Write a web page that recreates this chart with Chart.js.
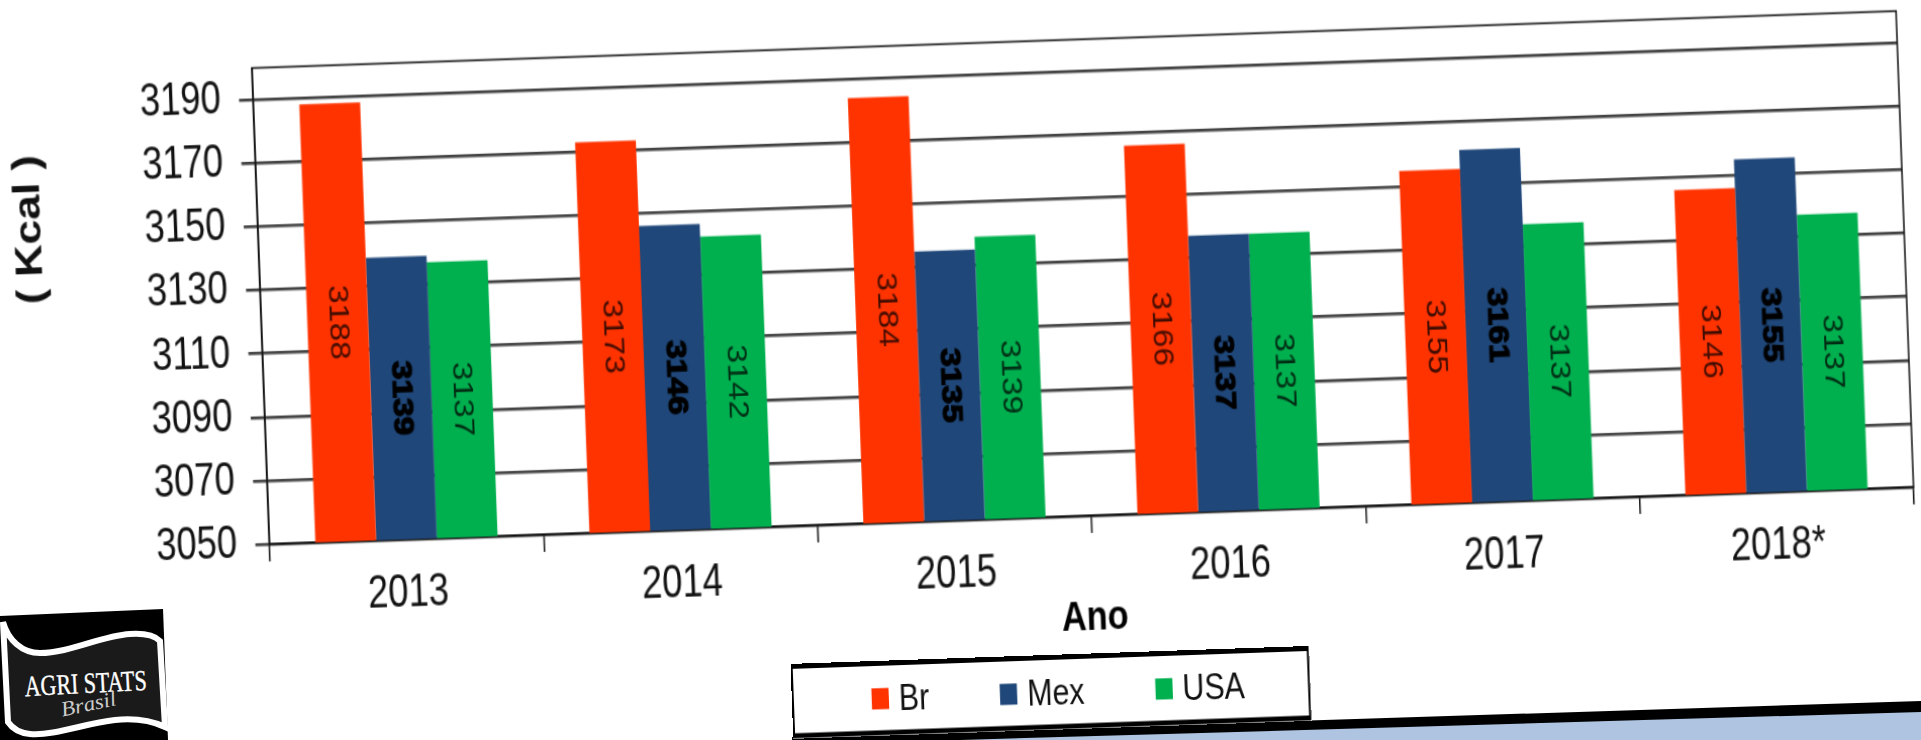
<!DOCTYPE html>
<html lang="pt">
<head>
    <meta charset="UTF-8">
    <title>Kcal por ano</title>
    <script src="https://cdn.jsdelivr.net/npm/chart.js"></script>
    <style>
        html, body { margin: 0; padding: 0; width: 1921px; height: 740px; overflow: hidden; background: #fff; }
        #sheet { position: absolute; left: 0; top: 0; width: 1921px; height: 600px; transform-origin: 0 0; }
        #sheet canvas { position: absolute; left: 0; top: 0; }
        #legend {
            position: absolute; left: 779px; top: 534px; width: 513px; height: 60px; box-sizing: border-box;
            border: 2px solid #000; border-top-width: 4px; border-bottom-width: 4px; background: #fff;
            display: flex; align-items: center; gap: 70px; padding-left: 77px;
            font: 30px "Liberation Sans", Arial, sans-serif; color: #111;
        }
        #legend span.item { display: flex; align-items: center; gap: 10px; }
        #legend i { display: block; width: 17px; height: 17px; }
        #deco { position: absolute; left: 0; top: 0; }
    </style>
</head>
<body>
    <svg id="deco" width="1921" height="740">
        <!-- faixa de baixo -->
        <polygon points="792,737 1921,701 1921,740 792,740" fill="#000"/>
        <polygon points="960,740 1921,712 1921,740" fill="#aec4e0"/>
        <!-- logo -->
        <polygon points="0,616 163,609 168,740 0,740" fill="#000"/>
        <path d="M3,622 C8,640 22,653 40,653 C70,653 100,636 130,634 C145,633 155,636 160,641 L165,727 C150,720 135,718 115,720 C85,723 55,736 30,734 C20,733 12,728 8,722 Z" fill="#1a1a1a" stroke="#fff" stroke-width="6"/>
        <g transform="rotate(-3 86 690)">
            <text x="86" y="693" text-anchor="middle" textLength="122" lengthAdjust="spacingAndGlyphs" font-family="Liberation Serif" font-size="29" fill="#fff" stroke="#fff" stroke-width="0.4">AGRI STATS</text>
        </g>
        <g transform="rotate(-12 88 702)">
            <text x="88" y="711" text-anchor="middle" textLength="56" lengthAdjust="spacingAndGlyphs" font-family="Liberation Serif" font-style="italic" font-size="21" fill="#ccc">Brasil</text>
        </g>
    </svg>

    <div id="sheet">
        <canvas id="kcalChart" width="1921" height="600"></canvas>
        <div id="legend"></div>
    </div>

    <script>
        const years = ['2013', '2014', '2015', '2016', '2017', '2018*'];
        const brValues = [3188, 3173, 3184, 3166, 3155, 3146];
        const mexValues = [3139, 3146, 3135, 3137, 3161, 3155];
        const usaValues = [3137, 3142, 3139, 3137, 3137, 3137];
        const yTicks = [3050, 3070, 3090, 3110, 3130, 3150, 3170, 3190];
        const seriesNames = ['Br', 'Mex', 'USA'];
        const seriesColors = ['#ff3300', '#1f4779', '#00b04f'];

        // onde os cantos da area do grafico caem na pagina (foto torta)
        const cornerTopLeft = [252, 68];
        const cornerTopRight = [1896, 11];
        const cornerBottomLeft = [269.5, 544];

        const fontName = '"Liberation Sans", Arial, sans-serif';

        // rotulos girados no meio de cada barra, Mex em negrito, e o titulo ( Kcal )
        const extraText = {
            id: 'extraText',
            afterDraw(chart) {
                const ctx = chart.ctx, area = chart.chartArea, yScale = chart.scales.y;
                ctx.save();
                ctx.textAlign = 'center';
                ctx.textBaseline = 'middle';
                chart.data.datasets.forEach((ds, i) => {
                    chart.getDatasetMeta(i).data.forEach((bar, j) => {
                        const midY = (yScale.getPixelForValue(ds.data[j]) + area.bottom) / 2;
                        const isBold = i === 1;
                        ctx.save();
                        ctx.translate(bar.x, midY);
                        ctx.rotate(Math.PI / 2);
                        ctx.font = (isBold ? 'bold ' : '') + '27px ' + fontName;
                        ctx.fillStyle = isBold ? '#000' : 'rgba(0,0,0,0.75)';
                        ctx.fillText(String(ds.data[j]), 0, 0);
                        if (isBold) {
                            ctx.strokeStyle = '#000';
                            ctx.lineWidth = 1.2;
                            ctx.strokeText(String(ds.data[j]), 0, 0);
                        }
                        ctx.restore();
                    });
                });
                ctx.fillStyle = '#111';
                ctx.translate(area.left - 225, area.top + 124);
                ctx.rotate(-Math.PI / 2);
                ctx.font = 'bold 36px ' + fontName;
                ctx.fillText('( Kcal )', 0, 0);
                ctx.restore();
            }
        };

        // moldura fina em volta da area
        const plotFrame = {
            id: 'plotFrame',
            beforeDatasetsDraw(chart) {
                const a = chart.chartArea, ctx = chart.ctx;
                ctx.save();
                ctx.strokeStyle = '#111';
                ctx.lineWidth = 1.5;
                ctx.strokeRect(a.left, a.top, a.width, a.height);
                ctx.restore();
            }
        };

        const chart = new Chart(document.getElementById('kcalChart'), {
            type: 'bar',
            data: {
                labels: years,
                datasets: [brValues, mexValues, usaValues].map((values, i) => ({
                    label: seriesNames[i],
                    data: values,
                    backgroundColor: seriesColors[i],
                    categoryPercentage: 0.665,
                    barPercentage: 1
                }))
            },
            options: {
                responsive: false,
                animation: false,
                layout: { padding: { left: 138, right: 25, top: 10, bottom: 74 } },
                plugins: { legend: { display: false }, tooltip: { enabled: false } },
                scales: {
                    x: {
                        grid: { drawOnChartArea: false, color: '#111', lineWidth: 1.5, tickLength: 14 },
                        border: { color: '#111', width: 1.5 },
                        ticks: { color: '#111', font: { family: fontName, size: 36 }, padding: 8, maxRotation: 0 },
                        title: { display: true, text: 'Ano', color: '#000', font: { family: fontName, size: 34, weight: 'bold' }, padding: { top: -11, bottom: 0 } }
                    },
                    y: {
                        min: 3050,
                        max: 3200,
                        afterBuildTicks(scale) { scale.ticks = yTicks.map(v => ({ value: v })); },
                        grid: { color: '#444', lineWidth: 2.5, tickLength: 14 },
                        border: { color: '#111', width: 1.5 },
                        ticks: { color: '#111', font: { family: fontName, size: 36 }, padding: 18, callback: v => String(v) }
                    }
                }
            },
            plugins: [plotFrame, extraText]
        });

        // legenda em html
        const legend = document.getElementById('legend');
        seriesNames.forEach((name, i) => {
            const item = document.createElement('span');
            item.className = 'item';
            item.innerHTML = '<i style="background:' + seriesColors[i] + '"></i>' + name;
            legend.appendChild(item);
        });

        // leva o chartArea para os cantos da foto torta
        const area = chart.chartArea;
        const ax = (cornerTopRight[0] - cornerTopLeft[0]) / area.width;
        const bx = (cornerTopRight[1] - cornerTopLeft[1]) / area.width;
        const ay = (cornerBottomLeft[0] - cornerTopLeft[0]) / area.height;
        const by = (cornerBottomLeft[1] - cornerTopLeft[1]) / area.height;
        const ex = cornerTopLeft[0] - ax * area.left - ay * area.top;
        const ey = cornerTopLeft[1] - bx * area.left - by * area.top;
        document.getElementById('sheet').style.transform = 'matrix(' + [ax, bx, ay, by, ex, ey].join(',') + ')';
    </script>
</body>
</html>
